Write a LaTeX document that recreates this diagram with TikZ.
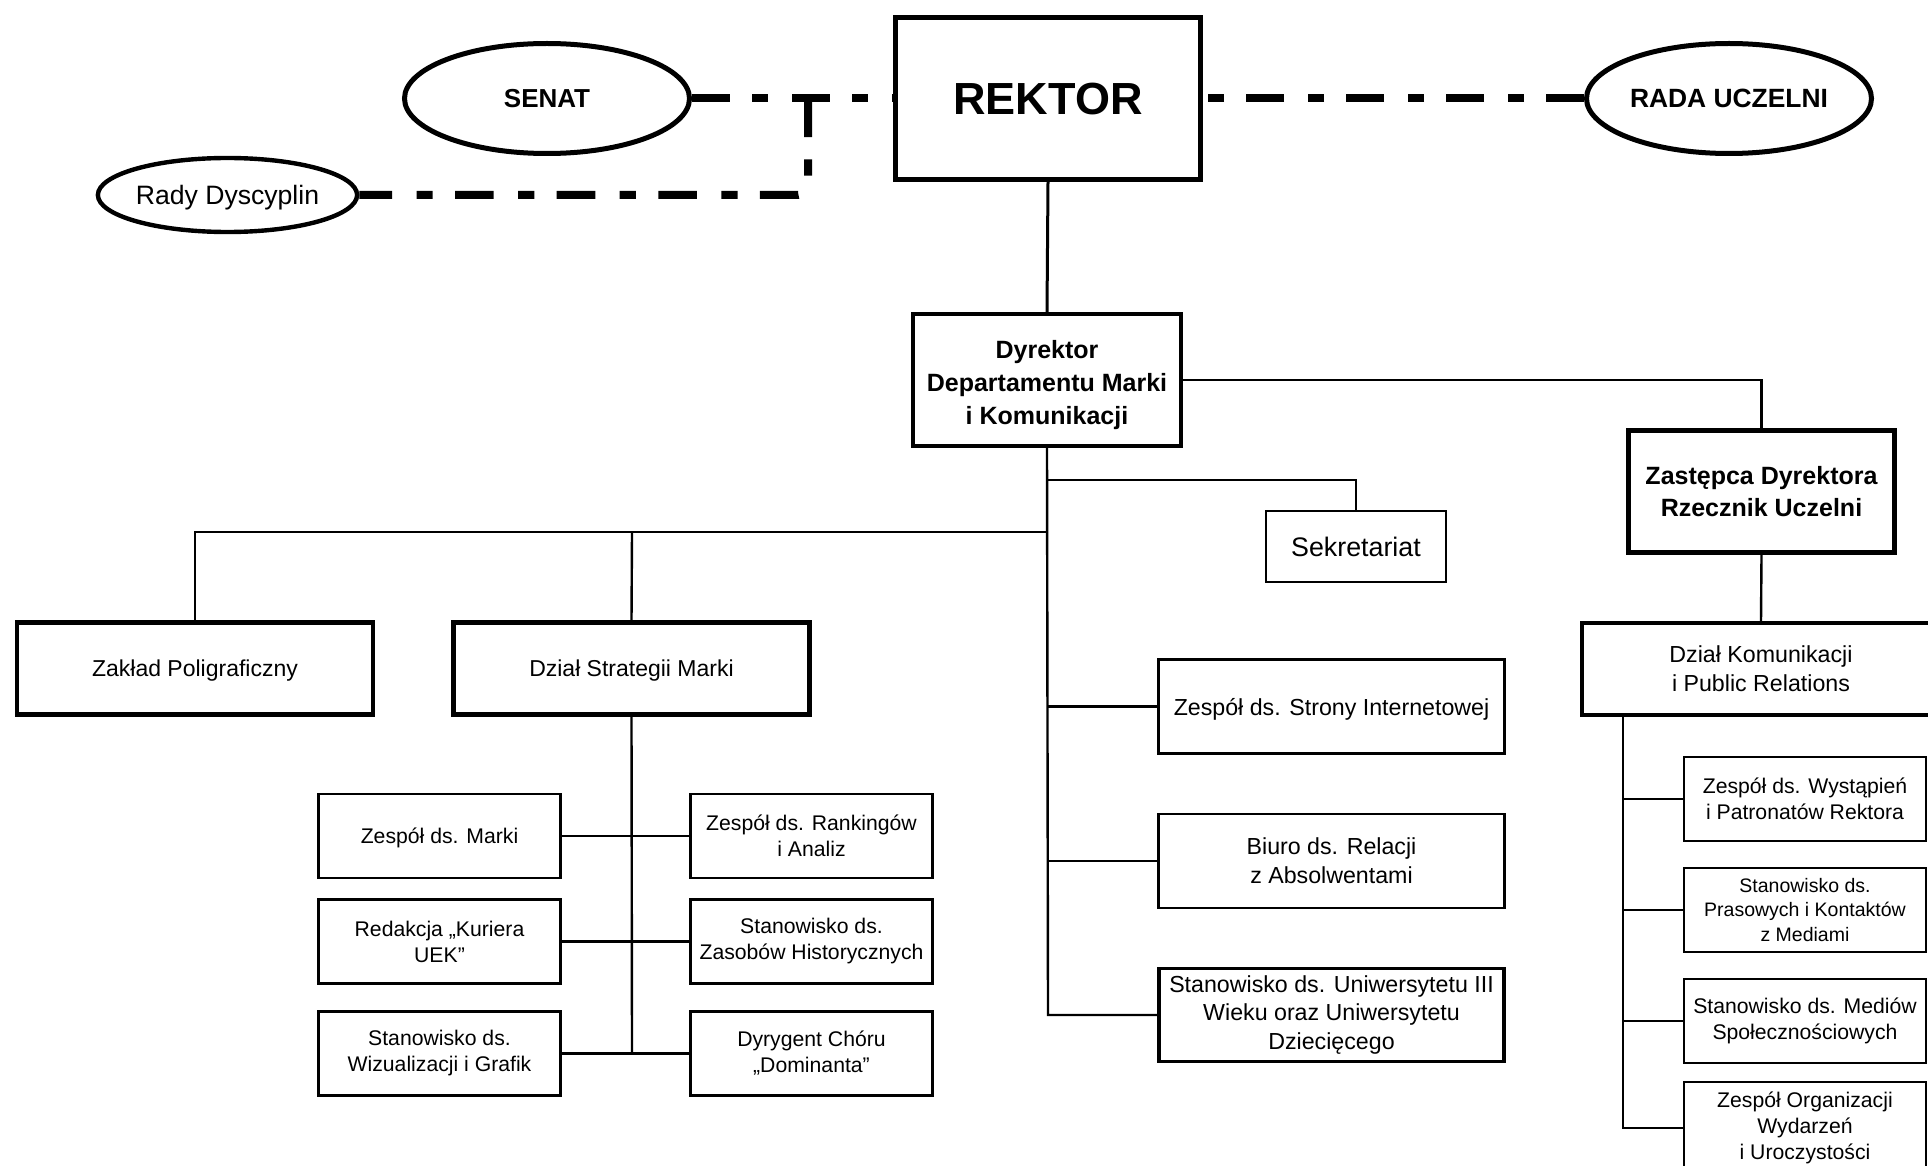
\documentclass[tikz,border=0pt]{standalone}
\usepackage{fontspec}
\setmainfont{Liberation Sans}
\usetikzlibrary{shapes.geometric}
\tikzset{
  box/.style={draw, rectangle, align=center, inner sep=2pt, fill=white},
  oneline/.style={text depth=0pt},
  topbox/.style={box, line width=2.5pt, font=\fontsize{22.5}{27}\selectfont\bfseries},
  headbox/.style={box, line width=2.2pt, font=\fontsize{12.5}{16.3}\selectfont\bfseries},
  unitbox/.style={box, line width=2.2pt, font=\fontsize{11.5}{14.4}\selectfont},
  midbox/.style={box, line width=1.2pt, font=\fontsize{11.6}{14.4}\selectfont},
  smallbox/.style={box, line width=1.2pt, font=\fontsize{10.6}{13}\selectfont, minimum width=121pt, minimum height=42pt},
  oval/.style={draw, ellipse, line width=2.5pt, inner sep=0pt, fill=white},
  conn/.style={line width=1.2pt},
  trunk/.style={line width=1.5pt},
  rel/.style={line width=4pt, dash pattern=on 19pt off 11pt on 8pt off 12pt},
  relfit/.style={line width=4pt, dash pattern=on 19.3pt off 11.2pt on 8.1pt off 12.2pt}
}
\begin{document}
\begin{tikzpicture}[x=0.5pt, y=-0.5pt]
\clip (0,0) rectangle (1928,1166);
\fill[white] (0,0) rectangle (1928,1166);

% top level
\node[topbox, oneline, minimum width=152.5pt, minimum height=81pt] (rektor) at (1048,98.5) {REKTOR};
\node[oval, oneline, minimum width=142.5pt, minimum height=55pt, font=\fontsize{13}{15}\selectfont\bfseries] (senat) at (547,98.5) {SENAT};
\node[oval, oneline, minimum width=142.5pt, minimum height=55pt, font=\fontsize{13.2}{15}\selectfont\bfseries] (rada) at (1729,98.5) {RADA UCZELNI};
\node[oval, oneline, line width=2.2pt, minimum width=121pt, minimum height=37pt, font=\fontsize{13.3}{15}\selectfont] (rady) at (227.5,195) {Rady Dyscyplin};
\coordinate (tj) at (808,98.5);

\draw[rel] (senat.east) -- (rektor.west);
\draw[rel] (rada.west) -- (rektor.east);
\draw[relfit, rounded corners=5pt] (tj) |- (rady.east);

% director
\node[headbox, minimum width=134pt, minimum height=66pt] (dyr) at (1047,380) {\rule{0pt}{14pt}Dyrektor\\Departamentu Marki\\i Komunikacji};
\node[headbox, minimum width=133pt, minimum height=61pt] (zast) at (1761.5,491.5) {Zastępca Dyrektora\\Rzecznik Uczelni};
\node[unitbox, font=\fontsize{11.6}{14.4}\selectfont, minimum width=179pt, minimum height=46pt] (dkom) at (1761,669) {Dział Komunikacji\\i Public Relations};
\node[midbox, oneline, font=\fontsize{13.4}{16}\selectfont, minimum width=90pt, minimum height=35.5pt] (sek) at (1356,546.5) {Sekretariat};

\draw[trunk] (rektor.south) -- (dyr.north);
\draw[conn] (dyr.east) -| (zast.north);
\draw[conn] (zast.south) -- (dkom.north);

% second level left
\node[unitbox, oneline, minimum width=178pt, minimum height=46pt] (zaklad) at (195,668.5) {Zakład Poligraficzny};
\node[unitbox, oneline, minimum width=178pt, minimum height=46pt] (strat) at (631.5,668.5) {Dział Strategii Marki};

% right column under director
\node[midbox, oneline, minimum width=173pt, minimum height=47pt] (strony) at (1331.5,706.5) {Zespół ds. Strony Internetowej};
\node[midbox, minimum width=173pt, minimum height=47pt] (biuro) at (1331.5,861) {Biuro ds. Relacji\\z Absolwentami};
\node[midbox, line width=1.8pt, minimum width=172.5pt, minimum height=46.5pt] (univ) at (1331.5,1015) {Stanowisko ds. Uniwersytetu III\\Wieku oraz Uniwersytetu\\Dziecięcego};

\coordinate (jsek) at (1048,480);
\coordinate (jleft) at (1048,532);
\coordinate (jstrat) at (632,532);
\coordinate (jstrony) at (1048,706.5);
\coordinate (jbiuro) at (1048,861);
\coordinate (juniv) at (1048,1015);

\draw[conn] (dyr.south) -- (juniv) -- (univ.west);
\draw[conn] (jsek) -| (sek.north);
\draw[conn] (jleft) -| (zaklad.north);
\draw[conn] (jstrat) -- (strat.north);
\draw[conn] (jstrony) -- (strony.west);
\draw[conn] (jbiuro) -- (biuro.west);

% strategy teams
\node[smallbox, oneline] (marki) at (439.5,836) {Zespół ds. Marki};
\node[smallbox] (rank) at (811.5,836) {Zespół ds. Rankingów\\i Analiz};
\node[smallbox] (kurier) at (439.5,941.5) {Redakcja „Kuriera\\UEK”};
\node[smallbox] (zasob) at (811.5,941.5) {Stanowisko ds.\\Zasobów Historycznych};
\node[smallbox] (wizu) at (439.5,1053.5) {Stanowisko ds.\\Wizualizacji i Grafik};
\node[smallbox] (dyryg) at (811.5,1053.5) {Dyrygent Chóru\\„Dominanta”};
\coordinate (jwizu) at (632,1053.5);

\draw[conn] (strat.south) -- (jwizu);
\draw[conn] (marki.east) -- (rank.west);
\draw[conn] (kurier.east) -- (zasob.west);
\draw[conn] (wizu.east) -- (dyryg.west);

% communication teams
\node[smallbox] (wyst) at (1805,799) {Zespół ds. Wystąpień\\i Patronatów Rektora};
\node[smallbox, font=\fontsize{9.75}{12.2}\selectfont] (pras) at (1805,910) {Stanowisko ds.\\Prasowych i Kontaktów\\z Mediami};
\node[smallbox] (media) at (1805,1021) {Stanowisko ds. Mediów\\Społecznościowych};
\node[smallbox, minimum height=46pt] (org) at (1805,1128) {Zespół Organizacji\\Wydarzeń\\i Uroczystości};

\coordinate (ktop) at (1623,717);
\coordinate (kwyst) at (1623,799);
\coordinate (kpras) at (1623,910);
\coordinate (kmedia) at (1623,1021);
\coordinate (korg) at (1623,1128);
\draw[conn] (ktop) -- (korg) -- (org.west);
\draw[conn] (kwyst) -- (wyst.west);
\draw[conn] (kpras) -- (pras.west);
\draw[conn] (kmedia) -- (media.west);
\end{tikzpicture}
\end{document}
